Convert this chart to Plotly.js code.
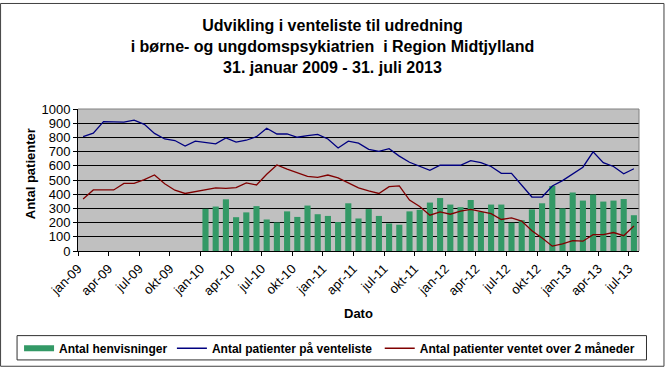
<!DOCTYPE html>
<html><head><meta charset="utf-8">
<script src="https://cdn.plot.ly/plotly-3.0.1.min.js"></script>
<style>html,body{margin:0;padding:0;background:#fff}</style>
</head><body><div id="chart" style="width:665px;height:374px"></div>
<script>
const months = ['jan-09','feb-09','mar-09','apr-09','maj-09','jun-09','jul-09','aug-09','sep-09','okt-09','nov-09','dec-09',
'jan-10','feb-10','mar-10','apr-10','maj-10','jun-10','jul-10','aug-10','sep-10','okt-10','nov-10','dec-10',
'jan-11','feb-11','mar-11','apr-11','maj-11','jun-11','jul-11','aug-11','sep-11','okt-11','nov-11','dec-11',
'jan-12','feb-12','mar-12','apr-12','maj-12','jun-12','jul-12','aug-12','sep-12','okt-12','nov-12','dec-12',
'jan-13','feb-13','mar-13','apr-13','maj-13','jun-13','jul-13'];
const referrals = [null,null,null,null,null,null,null,null,null,null,null,null,
297,313,364,238,272,316,222,201,279,240,320,259,
247,204,336,229,295,247,194,185,279,290,341,373,
327,309,359,275,327,327,199,217,293,336,458,300,
412,355,398,348,355,366,252];
const waitlist = [805,830,911,908,908,922,892,828,789,778,739,773,
762,755,796,767,780,805,865,824,824,801,812,821,
789,725,773,760,716,702,721,668,625,595,568,604,
606,604,636,622,595,547,547,465,380,380,458,496,
542,590,698,622,595,544,579];
const over2 = [366,430,430,430,476,476,503,535,474,428,405,417,
428,444,441,446,480,465,540,606,577,549,526,519,
535,515,478,444,423,405,453,458,359,314,252,275,
259,281,293,277,263,222,233,211,142,91,34,50,
73,69,115,115,130,108,176];
const names = ['Antal henvisninger','Antal patienter på venteliste','Antal patienter ventet over 2 måneder'];

const idx = months.map((m,i)=>i);
const tickIdx = idx.filter(i=>i%3===0);
const L=78, R=25.5, T=109, B=119, Wd=665, Ht=374;
const pw = Wd-L-R, ph = Ht-T-B;
const xp = px => (px-L)/pw;
const yp = py => (Ht-B-py)/ph;

const traces = [
 {type:'bar', x:idx, y:referrals, width:0.6, marker:{color:'#339966'}, showlegend:false, name:names[0]},
 {type:'scatter', mode:'lines', x:[null], y:[null], line:{color:'#339966', width:6}, name:names[0], legend:'legend'},
 {type:'scatter', mode:'lines', x:idx, y:waitlist, line:{color:'#000080', width:1.3}, name:names[1], legend:'legend2'},
 {type:'scatter', mode:'lines', x:idx, y:over2, line:{color:'#800000', width:1.3}, name:names[2], legend:'legend3'}
];

const legBase = {orientation:'h', xanchor:'left', y:yp(355), yanchor:'middle',
   font:{size:12, color:'#000', weight:'bold'}, bgcolor:'rgba(0,0,0,0)', borderwidth:0};

const layout = {
 width:Wd, height:Ht,
 margin:{l:L, r:R, t:T, b:B, pad:0},
 paper_bgcolor:'#ffffff', plot_bgcolor:'#c0c0c0',
 font:{family:'"Liberation Sans", Arial, sans-serif', color:'#000', size:12},
 title:{text:'<b>Udvikling i venteliste til udredning<br>i børne- og ungdomspsykiatrien  i Region Midtjylland<br>31. januar 2009 - 31. juli 2013</b>',
   font:{size:16, color:'#000'}, x:0.5, xref:'container', xanchor:'center', y:1-31/Ht, yref:'container', yanchor:'top'},
 showlegend:true,
 legend:Object.assign({}, legBase, {x:xp(19)}),
 legend2:Object.assign({}, legBase, {x:xp(172)}),
 legend3:Object.assign({}, legBase, {x:xp(380)}),
 xaxis:{range:[-0.5,54.5], tickmode:'array', tickvals:tickIdx.map(i=>i-0.5), ticktext:tickIdx.map(i=>months[i]),
   tickangle:-45, ticks:'outside', ticklen:4, tickcolor:'#000', showline:true, linecolor:'#000', linewidth:1,
   showgrid:false, zeroline:false, tickfont:{size:13}, fixedrange:true},
 yaxis:{range:[0,1000], dtick:100, tick0:0, ticks:'outside', ticklen:4, tickcolor:'#000', showline:true, linecolor:'#000',
   gridcolor:'#000', gridwidth:1, zeroline:false, tickfont:{size:13}, fixedrange:true},
 annotations:[
  {text:'<b>Dato</b>', xref:'paper', yref:'paper', x:0.5, y:yp(319), showarrow:false, font:{size:13}, xanchor:'center', yanchor:'middle'},
  {text:'<b>Antal patienter</b>', xref:'paper', yref:'paper', x:xp(30), y:yp(176), showarrow:false, textangle:-90, font:{size:13}, xanchor:'center', yanchor:'middle'}
 ],
 shapes:[
  {type:'line', xref:'paper', yref:'paper', x0:0, x1:1, y0:1, y1:1, line:{color:'#808080', width:1}},
  {type:'line', xref:'paper', yref:'paper', x0:1, x1:1, y0:0, y1:1, line:{color:'#808080', width:1}},
  {type:'rect', xref:'paper', yref:'paper', x0:xp(17), x1:xp(647), y0:yp(342), y1:yp(367), line:{color:'#303030', width:1}},
  {type:'rect', xref:'paper', yref:'paper', x0:xp(0.5), x1:xp(664.5), y0:yp(0.5), y1:yp(373.5), line:{color:'#404040', width:1}}
 ]
};
Plotly.newPlot('chart', traces, layout, {staticPlot:true, displayModeBar:false});
</script></body></html>
